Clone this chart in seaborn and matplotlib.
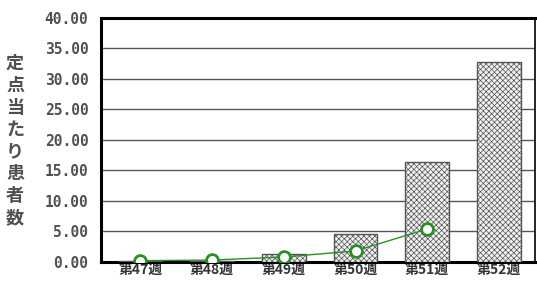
import numpy as np
import pandas as pd
import matplotlib
matplotlib.use("Agg")
import matplotlib.pyplot as plt
import seaborn as sns

# data
weeks = ["第47週", "第48週", "第49週", "第50週", "第51週", "第52週"]
bar_values = [0.1, 0.1, 1.3, 4.6, 16.4, 32.8]
line_weeks = ["第47週", "第48週", "第49週", "第50週", "第51週"]
line_values = [0.2, 0.3, 0.8, 1.8, 5.4]
y_ticks = [0, 5, 10, 15, 20, 25, 30, 35, 40]
y_label = "定点当たり患者数"

sns.set_style("white")
plt.rcParams['font.family'] = ['Noto Sans CJK JP', 'DejaVu Sans']
plt.rcParams['hatch.color'] = '#b0b0b0'
plt.rcParams['hatch.linewidth'] = 0.5

fig = plt.figure(figsize=(5.37, 2.81), dpi=100)
ax = fig.add_axes([0.188, 0.068, 0.808, 0.868])

bars_df = pd.DataFrame({"week": weeks, "value": bar_values})
sns.barplot(data=bars_df, x="week", y="value", order=weeks, ax=ax,
            color="#f0f0f0", width=0.61, edgecolor="#555555", linewidth=1.0,
            hatch="xxxxxx", zorder=3)

line_df = pd.DataFrame({"week": line_weeks, "value": line_values})
sns.pointplot(data=line_df, x="week", y="value", order=weeks, ax=ax,
              color="#2a8f2a", markers="o", linewidth=1.0,
              markersize=8.5, markerfacecolor="white", markeredgewidth=2.0)
for ln in ax.lines:
    ln.set_zorder(5)

ax.set_ylim(0, 40)
ax.set_xlim(-0.55, 5.5)
ax.set_yticks(y_ticks)
ax.set_yticklabels([f"{v:.2f}" for v in y_ticks], family="DejaVu Sans Mono",
                   fontsize=10.5, color="#505050", fontweight="bold")
ax.set_xticks(range(len(weeks)))
ax.set_xticklabels(weeks, fontsize=10, color="#333333", fontweight="bold")
ax.tick_params(axis="y", length=0, pad=9)
ax.tick_params(axis="x", length=0, pad=1)
ax.yaxis.grid(True, color="#555555", linewidth=1.0, zorder=0)
ax.set_axisbelow(True)
ax.set_xlabel("")
ax.set_ylabel("")
for side, sp in ax.spines.items():
    sp.set_visible(True)
    sp.set_color("black")
    sp.set_linewidth(2.2 if side in ("left", "bottom", "top") else 1.2)

fig.text(0.028, 0.5, "\n".join(y_label), ha="center", va="center",
         fontsize=13, color="#505050", linespacing=1.2, fontweight="bold")

fig.savefig("out.png", dpi=100)
